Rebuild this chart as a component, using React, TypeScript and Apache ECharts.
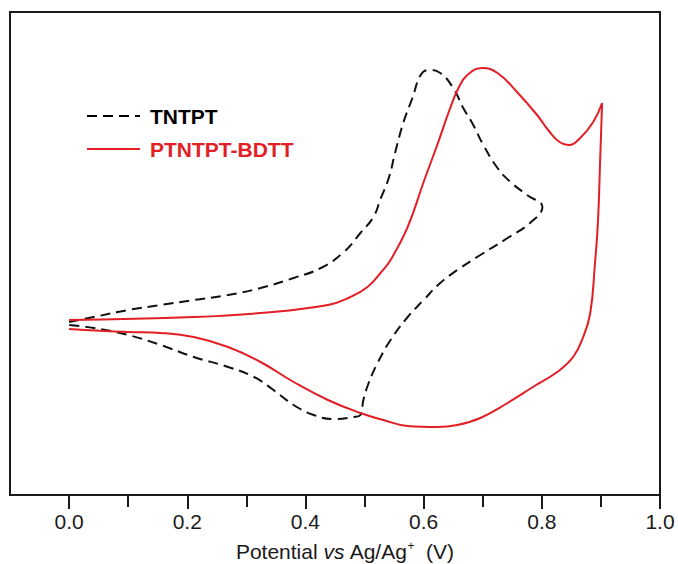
import React, { useEffect, useRef } from "react";
import * as echarts from "echarts";

// Potential (V) and current (arbitrary units)
const tntptX = [
  0.0, 0.042, 0.1, 0.155, 0.211, 0.269, 0.324, 0.38, 0.426, 0.465, 0.493, 0.515, 0.527, 0.541, 0.552, 0.566, 0.581, 0.595, 0.608, 0.628, 0.65, 0.667, 0.684, 0.701, 0.725, 0.747, 0.775, 0.801,
  0.78, 0.742, 0.696, 0.657, 0.628, 0.6, 0.573, 0.544, 0.522, 0.507, 0.498, 0.493, 0.481, 0.448, 0.414, 0.38, 0.346, 0.313, 0.269, 0.211, 0.155, 0.1, 0.042, 0.0,
];
const tntptY = [
  0.08, 0.13, 0.2, 0.25, 0.3, 0.35, 0.42, 0.52, 0.62, 0.78, 0.97, 1.13, 1.31, 1.52, 1.78, 2.08, 2.32, 2.55, 2.6, 2.57, 2.42, 2.22, 2.05, 1.85, 1.62, 1.48, 1.35, 1.23,
  1.07, 0.92, 0.75, 0.6, 0.47, 0.3, 0.13, -0.1, -0.33, -0.53, -0.7, -0.85, -0.87, -0.89, -0.85, -0.75, -0.6, -0.47, -0.37, -0.27, -0.15, -0.05, 0.02, 0.05,
];
const polyX = [
  0.0, 0.211, 0.324, 0.438, 0.476, 0.505, 0.527, 0.544, 0.573, 0.6, 0.623, 0.645, 0.659, 0.674, 0.699, 0.725, 0.758, 0.792, 0.812, 0.83, 0.845, 0.865, 0.887, 0.902,
  0.899, 0.895, 0.89, 0.882, 0.87, 0.853, 0.826, 0.785, 0.742, 0.696, 0.657, 0.623, 0.573, 0.532, 0.493, 0.438, 0.38, 0.324, 0.269, 0.211, 0.155, 0.1, 0.0,
];
const polyY = [
  0.1, 0.13, 0.17, 0.25, 0.33, 0.43, 0.57, 0.7, 1.03, 1.48, 1.85, 2.22, 2.42, 2.55, 2.62, 2.57, 2.38, 2.15, 1.99, 1.88, 1.85, 1.92, 2.08, 2.27,
  1.75, 1.08, 0.67, 0.17, -0.07, -0.27, -0.42, -0.57, -0.73, -0.88, -0.95, -0.97, -0.96, -0.9, -0.83, -0.7, -0.52, -0.32, -0.17, -0.07, -0.03, -0.02, 0.01,
];
const seriesNames = ["TNTPT", "PTNTPT-BDTT"];
const majorTicks = [0.0, 0.2, 0.4, 0.6, 0.8, 1.0];
const minorTicks = [0.1, 0.3, 0.5, 0.7, 0.9];

const FONT = "'Liberation Sans', Arial, sans-serif";
const RED = "#e31e24";
const BLACK = "#111111";
const INK = "#1a1a1a";
const DASH = [10, 6];

export default function App() {
  const ref = useRef<HTMLDivElement>(null);
  useEffect(() => {
    if (!ref.current) return;
    const chart = echarts.init(ref.current, undefined, { renderer: "svg" });
    const pair = (xs: number[], ys: number[]) => xs.map((x, i) => [x, ys[i]]);
    const legendItem = (name: string, color: string, y: number, dashed: boolean) => ({
      type: "group",
      children: [
        {
          type: "line",
          shape: { x1: 87, y1: y, x2: 140, y2: y },
          style: { stroke: color, lineWidth: 2, lineDash: dashed ? DASH : null },
        },
        {
          type: "text",
          x: 150,
          y: y,
          style: {
            text: name,
            fill: color,
            font: `bold 21px ${FONT}`,
            verticalAlign: "middle",
            align: "left",
          },
        },
      ],
    });
    chart.setOption({
      animation: false,
      textStyle: { fontFamily: FONT },
      grid: {
        left: 10,
        right: 18,
        top: 12,
        bottom: 69,
        show: true,
        borderColor: INK,
        borderWidth: 2,
        outerBoundsMode: "none",
        containLabel: false,
      },
      graphic: [
        legendItem(seriesNames[0], "#000", 116, true),
        legendItem(seriesNames[1], RED, 149, false),
      ],
      xAxis: [
        {
          type: "value",
          min: -0.1,
          max: 1.0,
          position: "bottom",
          splitLine: { show: false },
          axisLine: { show: true, onZero: false, lineStyle: { color: INK, width: 2 } },
          axisTick: { show: true, customValues: majorTicks, length: 14, lineStyle: { color: INK, width: 2 } },
          axisLabel: {
            customValues: majorTicks,
            formatter: (v: number) => v.toFixed(1),
            fontSize: 21,
            color: INK,
            fontFamily: FONT,
            margin: 16,
          },
          name: "Potential {i|vs} Ag/Ag{s|+}  (V)",
          nameLocation: "middle",
          nameGap: 45,
          nameTextStyle: {
            fontSize: 21,
            color: INK,
            fontFamily: FONT,
            padding: [0, 0, 0, 20],
            rich: {
              i: { fontStyle: "italic", fontSize: 21, color: INK, fontFamily: FONT },
              s: { fontSize: 12, color: INK, fontFamily: FONT, verticalAlign: "top", padding: [0, 0, 10, 0] },
            },
          },
        },
        {
          type: "value",
          min: -0.1,
          max: 1.0,
          position: "bottom",
          offset: 0,
          splitLine: { show: false },
          axisLine: { show: false, onZero: false },
          axisTick: { show: true, customValues: minorTicks, length: 12, lineStyle: { color: INK, width: 2 } },
          axisLabel: { show: false },
        },
      ],
      yAxis: {
        type: "value",
        min: -1.65,
        max: 3.18,
        axisLine: { show: false },
        axisTick: { show: false },
        axisLabel: { show: false },
        splitLine: { show: false },
      },
      series: [
        {
          name: seriesNames[0],
          type: "line",
          xAxisIndex: 0,
          data: pair(tntptX, tntptY),
          smooth: 0.45,
          symbol: "none",
          lineStyle: { color: BLACK, width: 2, type: DASH },
          itemStyle: { color: BLACK },
        },
        {
          name: seriesNames[1],
          type: "line",
          xAxisIndex: 0,
          data: pair(polyX, polyY),
          smooth: 0.45,
          symbol: "none",
          lineStyle: { color: RED, width: 2 },
          itemStyle: { color: RED },
        },
      ],
    });
    return () => chart.dispose();
  }, []);
  return <div ref={ref} style={{ width: 678, height: 564, position: "absolute", left: 0, top: 0 }} />;
}
